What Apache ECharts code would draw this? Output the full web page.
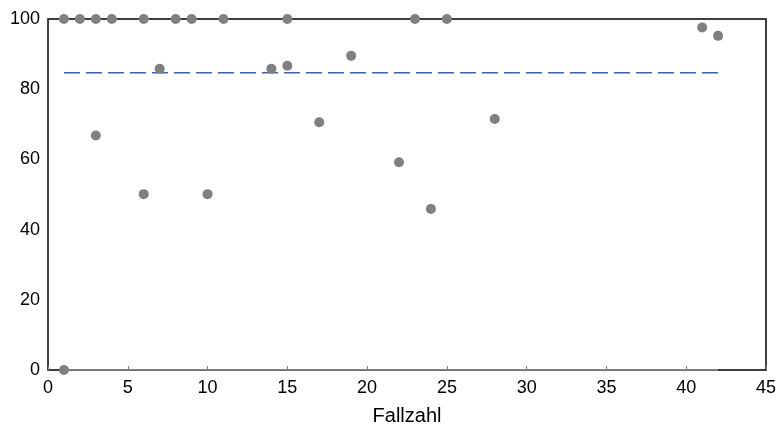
<!DOCTYPE html>
<html><head><meta charset="utf-8">
<script src="https://cdn.jsdelivr.net/npm/echarts@6/dist/echarts.min.js"></script>
<style>html,body{margin:0;padding:0;background:#fff}#c{width:777px;height:426px}</style>
</head><body><div id="c"></div>
<script>
var caseX = [1,2,3,4,6,8,9,11,15,23,25,7,14,15,19,41,42,3,6,10,17,28,22,24,1];
var percentY = [100,100,100,100,100,100,100,100,100,100,100,85.8,85.8,86.7,89.5,97.6,95.2,66.8,50.1,50.1,70.6,71.5,59.2,45.9,0];
var refX = [1,42];
var refMean = [84.7,84.7];
var refZero = [0,0];
var xTicks = [0,5,10,15,20,25,30,35,40,45];
var yTicks = [0,20,40,60,80,100];
var xTitle = 'Fallzahl';

var pts = caseX.map(function(x,i){return [x, percentY[i]];});
var chart = echarts.init(document.getElementById('c'));
chart.setOption({
  animation:false,
  grid:{left:48,right:11,top:19,bottom:56,show:true,borderColor:'#000',borderWidth:1.5,backgroundColor:'transparent',
    containLabel:false,outerBoundsMode:'none'},
  xAxis:{type:'value',min:xTicks[0],max:xTicks[xTicks.length-1],interval:5,
    name:xTitle,nameLocation:'middle',nameGap:36,
    nameTextStyle:{fontFamily:'Liberation Sans',fontSize:20,color:'#000'},
    axisLine:{show:false},
    axisTick:{show:true,inside:true,length:4,lineStyle:{color:'#808080',width:1}},
    axisLabel:{fontFamily:'Liberation Sans',fontSize:18,color:'#000',margin:9},
    splitLine:{show:false}},
  yAxis:{type:'value',min:yTicks[0],max:yTicks[yTicks.length-1],interval:20,
    axisLine:{show:false},axisTick:{show:false},
    axisLabel:{fontFamily:'Liberation Sans',fontSize:18,color:'#000',margin:8},
    splitLine:{show:false}},
  series:[
    {type:'line',data:refX.map(function(x,i){return [x,refZero[i]];}),symbol:'none',
      lineStyle:{color:'#999',width:1.5},z:2},
    {type:'line',data:refX.map(function(x,i){return [x,refMean[i]];}),symbol:'none',
      lineStyle:{color:'#3a62a8',width:1.5,type:[16,6]},z:2},
    {type:'scatter',data:pts,symbolSize:10,itemStyle:{color:'#808080',opacity:1},z:3}
  ]
});
</script></body></html>
